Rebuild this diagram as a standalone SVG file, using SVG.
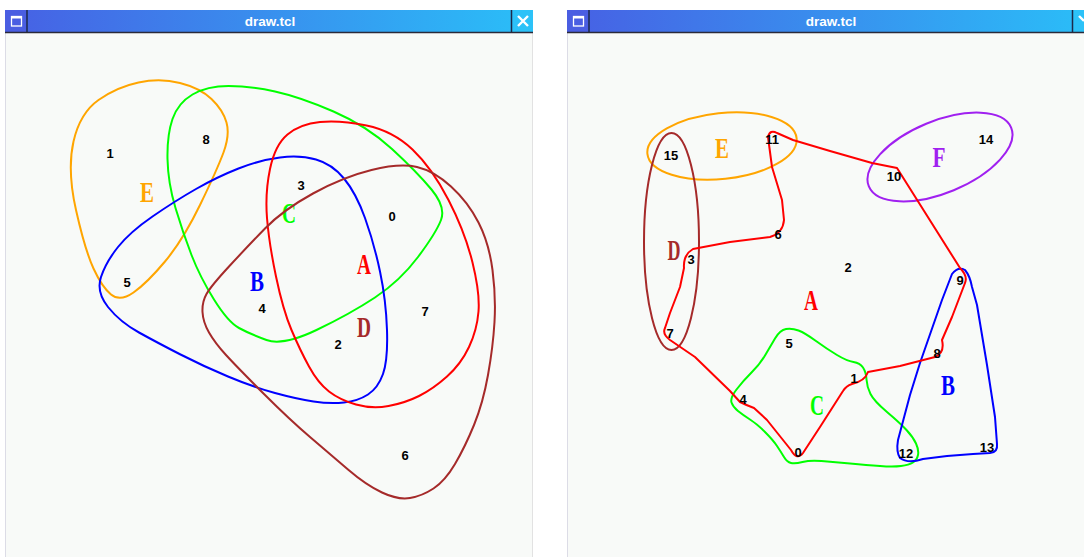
<svg xmlns="http://www.w3.org/2000/svg" width="1084" height="557" viewBox="0 0 1084 557">
<defs>
<linearGradient id="tb" x1="0" y1="0" x2="1" y2="0">
<stop offset="0" stop-color="#4760e4"/>
<stop offset="1" stop-color="#2abff8"/>
</linearGradient>
</defs>
<style>
.set{fill:none;stroke-width:2;stroke-linejoin:round}
.num{font-family:"Liberation Sans",Arial,sans-serif;font-weight:bold;font-size:13px;fill:#000;text-anchor:middle}
.lab{font-family:"Liberation Serif","Times New Roman",serif;font-weight:bold;font-size:29px;text-anchor:middle}
.title{font-family:"Liberation Sans",Arial,sans-serif;font-weight:bold;font-size:13.5px;fill:#fff;text-anchor:middle}
.body{fill:#f8faf8}
.sep{stroke:#1c2a4a;stroke-width:1.5}
</style>
<rect width="1084" height="557" fill="#ffffff"/>

<g id="window-left">
<rect class="body" x="5" y="33" width="528" height="524"/>
<line x1="5.5" y1="33" x2="5.5" y2="557" stroke="#dcdce6"/>
<line x1="532.5" y1="33" x2="532.5" y2="557" stroke="#e2e2e2"/>
<rect x="5" y="10" width="528" height="22" fill="url(#tb)"/>
<rect x="5" y="10" width="22" height="22" fill="#4a5ee2"/>
<rect x="512" y="10" width="21" height="22" fill="#2cc2f8"/>
<line class="sep" x1="27" y1="10" x2="27" y2="32"/>
<line class="sep" x1="511.5" y1="10" x2="511.5" y2="32"/>
<line x1="5" y1="32.5" x2="533" y2="32.5" stroke="#2a2a3a" stroke-width="1.5"/>
<rect x="11.5" y="16.5" width="10" height="9.5" fill="none" stroke="#fff" stroke-width="1.3"/>
<line x1="11.5" y1="17.5" x2="21.5" y2="17.5" stroke="#fff" stroke-width="2"/>
<path d="M518 16 L528 26 M528 16 L518 26" stroke="#fff" stroke-width="2.4"/>
<text class="title" x="270" y="26">draw.tcl</text>
</g>

<g id="window-right">
<rect class="body" x="567" y="33" width="528" height="524"/>
<line x1="567.5" y1="33" x2="567.5" y2="557" stroke="#dcdce6"/>
<rect x="567" y="10" width="528" height="22" fill="url(#tb)"/>
<rect x="567" y="10" width="22" height="22" fill="#4a5ee2"/>
<rect x="1073" y="10" width="21" height="22" fill="#2cc2f8"/>
<line class="sep" x1="589" y1="10" x2="589" y2="32"/>
<line class="sep" x1="1072.5" y1="10" x2="1072.5" y2="32"/>
<line x1="567" y1="32.5" x2="1084" y2="32.5" stroke="#2a2a3a" stroke-width="1.5"/>
<rect x="573.5" y="16.5" width="10" height="9.5" fill="none" stroke="#fff" stroke-width="1.3"/>
<line x1="573.5" y1="17.5" x2="583.5" y2="17.5" stroke="#fff" stroke-width="2"/>
<path d="M1079 16 L1084 21" stroke="#fff" stroke-width="2.4"/>
<text class="title" x="831" y="26">draw.tcl</text>
</g>

<!-- LEFT DIAGRAM -->
<g id="L-set-E">
<path class="set" stroke="#ffa500" d="M180,83 Q200,88 211.5,99 Q223,110 226.5,122.5 Q230,135 223.5,152.5 Q217,170 200,205 Q183,240 165,261.5 Q147,283 133.5,292.5 Q120,302 111,294.5 Q102,287 93.5,268.5 Q85,250 76,210 Q67,170 73.5,141.5 Q80,113 98.5,100 Q117,87 138.5,82.5 Q160,78 180,83 Z"/>
<text class="lab" fill="#ffa500" x="147" y="202" textLength="14" lengthAdjust="spacingAndGlyphs">E</text>
</g>
<g id="L-set-C">
<path class="set" stroke="#00ff00" d="M228.5,86 Q250,86 275,91.5 Q300,97 333.5,111.5 Q367,126 392,149 Q417,172 431.5,189.5 Q446,207 441,220 Q436,233 418,257 Q400,281 375,297.5 Q350,314 316.5,330 Q283,346 266.5,340 Q250,334 239,328 Q228,322 214,299.5 Q200,277 191.5,255 Q183,233 175.5,208 Q168,183 167.5,159 Q167,135 172.5,119 Q178,103 192.5,94.5 Q207,86 228.5,86 Z"/>
<text class="lab" fill="#00ff00" x="289" y="223" textLength="14" lengthAdjust="spacingAndGlyphs">C</text>
</g>
<g id="L-set-B">
<path class="set" stroke="#0000ff" d="M101,277 Q106,262 118,247 Q130,232 152.5,216.5 Q175,201 196,189 Q217,177 238.5,168.5 Q260,160 280,157.5 Q300,155 316,159.5 Q332,164 344,178.5 Q356,193 365,218 Q374,243 380,271.5 Q386,300 387,330 Q388,360 383,374 Q378,388 368,394.5 Q358,401 344,402.5 Q330,404 313.5,401.5 Q297,399 275,393 Q253,387 228,376.5 Q203,366 180.5,354.5 Q158,343 139,332.5 Q120,322 108,307 Q96,292 101,277 Z"/>
<text class="lab" fill="#0000ff" x="257" y="291" textLength="14" lengthAdjust="spacingAndGlyphs">B</text>
</g>
<g id="L-set-A">
<path class="set" stroke="#ff0000" d="M366.5,125.5 Q393,131 412.5,149.5 Q432,168 448.5,200 Q465,232 472.5,262.5 Q480,293 478.5,311.5 Q477,330 469,347 Q461,364 447,376.5 Q433,389 419,396 Q405,403 388.5,406 Q372,409 356,404.5 Q340,400 329,391.5 Q318,383 309,366.5 Q300,350 291.5,330 Q283,310 276,276.5 Q269,243 267,218 Q265,193 270,169 Q275,145 287.5,134.5 Q300,124 320,122 Q340,120 366.5,125.5 Z"/>
<text class="lab" fill="#ff0000" x="364" y="274" textLength="14" lengthAdjust="spacingAndGlyphs">A</text>
</g>
<g id="L-set-D">
<path class="set" stroke="#a52a2a" d="M417,167 Q434,171 451,186.5 Q468,202 478.5,222.5 Q489,243 492.5,270 Q496,297 494.5,322 Q493,347 488,375 Q483,403 474,425 Q465,447 455,464 Q445,481 433.5,488.5 Q422,496 410,498 Q398,500 382,492.5 Q366,485 348,469.5 Q330,454 310,437 Q290,420 263.5,393.5 Q237,367 226,355 Q215,343 209,332.5 Q203,322 202.5,312 Q202,302 206.5,294 Q211,286 229,266.5 Q247,247 265,228.5 Q283,210 313,193.5 Q343,177 371.5,170 Q400,163 417,167 Z"/>
<text class="lab" fill="#a52a2a" x="364" y="337" textLength="14" lengthAdjust="spacingAndGlyphs">D</text>
</g>
<g id="L-elements">
<text class="num" x="110" y="158">1</text>
<text class="num" x="206" y="144">8</text>
<text class="num" x="127" y="287">5</text>
<text class="num" x="262" y="313">4</text>
<text class="num" x="301" y="190">3</text>
<text class="num" x="392" y="221">0</text>
<text class="num" x="425" y="316">7</text>
<text class="num" x="338" y="349">2</text>
<text class="num" x="405" y="460">6</text>
</g>

<!-- RIGHT DIAGRAM -->
<g id="R-set-E">
<ellipse class="set" stroke="#ffa500" cx="722" cy="146" rx="75" ry="33" transform="rotate(-6 722 146)"/>
<text class="lab" fill="#ffa500" x="722" y="158" textLength="14" lengthAdjust="spacingAndGlyphs">E</text>
</g>
<g id="R-set-F">
<ellipse class="set" stroke="#a020f0" cx="940" cy="157" rx="77" ry="36" transform="rotate(-22.5 940 157)"/>
<text class="lab" fill="#a020f0" x="939" y="167" textLength="13" lengthAdjust="spacingAndGlyphs">F</text>
</g>
<g id="R-set-D">
<ellipse class="set" stroke="#a52a2a" cx="671.5" cy="241.5" rx="27.5" ry="108.5"/>
<text class="lab" fill="#a52a2a" x="674" y="260" textLength="13" lengthAdjust="spacingAndGlyphs">D</text>
</g>
<g id="R-set-C">
<path class="set" stroke="#00ff00" d="M786,329 Q792,328 798.5,330.5 Q805,333 816,341 Q827,349 837,355 Q847,361 853.5,362 Q860,363 863,367.5 Q866,372 866.5,379.5 Q867,387 870.5,394 Q874,401 887,412 Q900,423 906.5,430 Q913,437 916,443.5 Q919,450 918,455 Q917,460 913,462.5 Q909,465 901,466 Q893,467 880,466 Q867,465 850,463.5 Q833,462 821.5,461 Q810,460 802.5,462 Q795,464 791,463 Q787,462 784,457 Q781,452 777,446 Q773,440 765,432 Q757,424 750,419.5 Q743,415 738,411 Q733,407 731.5,402.5 Q730,398 736.5,389.5 Q743,381 751.5,372.5 Q760,364 765,355.5 Q770,347 775,338.5 Q780,330 786,329 Z"/>
<text class="lab" fill="#00ff00" x="817" y="415" textLength="14" lengthAdjust="spacingAndGlyphs">C</text>
</g>
<g id="R-set-B">
<path class="set" stroke="#0000ff" d="M952,274 Q958,266 965,270 Q970,276 972,287 L977,305 L987,365 L995,417 L997,444 Q998,452 990,453 L973,454 L947,456 L923,459 Q908,464 900,458 Q896,452 898,440 L910,395 L920,363 L942,300 Z"/>
<text class="lab" fill="#0000ff" x="948" y="395" textLength="14" lengthAdjust="spacingAndGlyphs">B</text>
</g>
<g id="R-set-A">
<path class="set" stroke="#ff0000" d="M897,168 L960,268 Q968,276 965,283 L952,317 L942,340 Q945,353 935,357 L900,366 L868,372 Q865,381 852,384 Q846,386 843,391 L820,427 L803,453 Q797,461 791,450 L767,420 L754,408 Q746,405 740,402 L730,391 L695,357 L670,340 Q662,334 665,328 L670,313 L680,287 L684,268 Q683,255 693,249 L730,242 L770,237 Q783,233 784,220 L782,200 L772,167 L768,137 Q770,129 777,133 L793,140 L830,151 L872,163 Z"/>
<text class="lab" fill="#ff0000" x="811" y="310" textLength="14" lengthAdjust="spacingAndGlyphs">A</text>
</g>
<g id="R-elements">
<text class="num" x="671" y="160">15</text>
<text class="num" x="772" y="144">11</text>
<text class="num" x="778" y="239">6</text>
<text class="num" x="691" y="264">3</text>
<text class="num" x="670" y="338">7</text>
<text class="num" x="894" y="181">10</text>
<text class="num" x="986" y="144">14</text>
<text class="num" x="848" y="272">2</text>
<text class="num" x="960" y="285">9</text>
<text class="num" x="789" y="348">5</text>
<text class="num" x="937" y="358">8</text>
<text class="num" x="854" y="383">1</text>
<text class="num" x="743" y="404">4</text>
<text class="num" x="798" y="457">0</text>
<text class="num" x="906" y="458">12</text>
<text class="num" x="987" y="452">13</text>
</g>
</svg>
